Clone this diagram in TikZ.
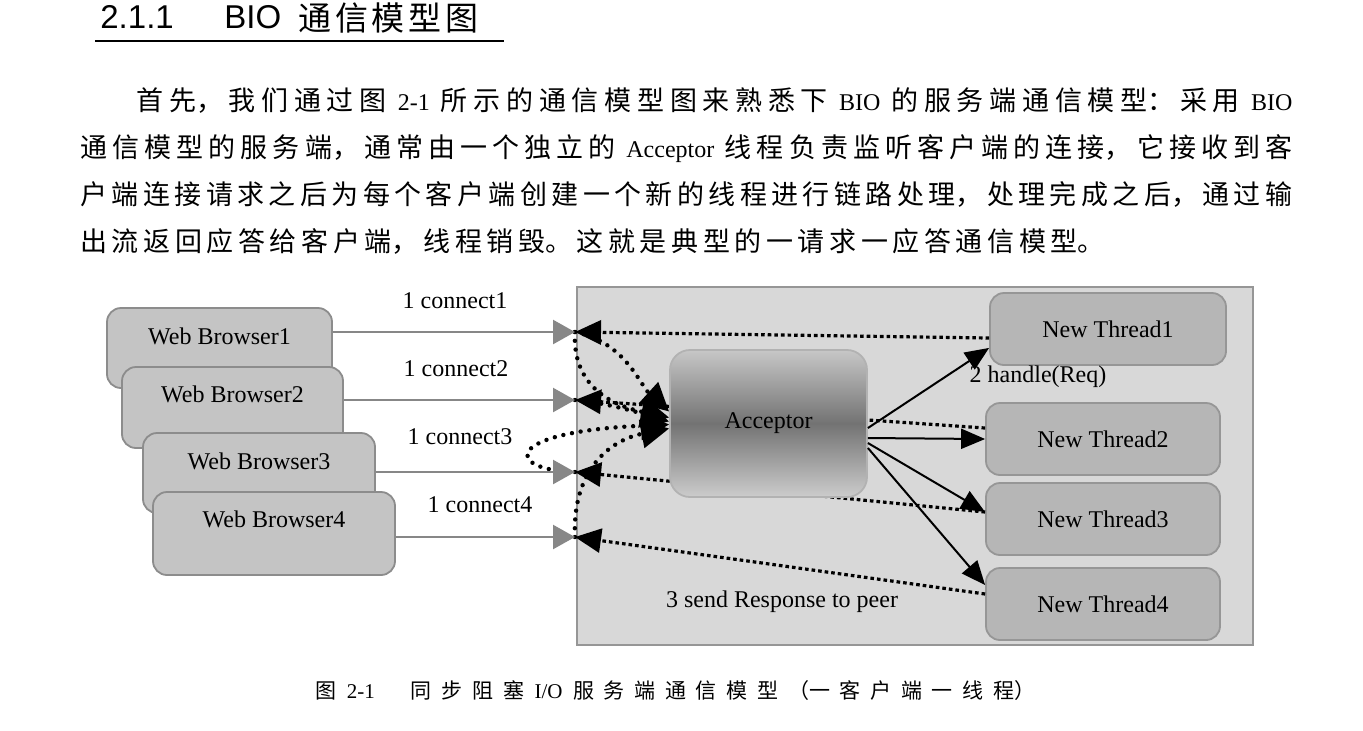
\documentclass[tikz,border=0pt]{standalone}
\usepackage{fontspec}
\setmainfont{Liberation Serif}
\newfontfamily\cjk{Noto Sans CJK SC}
\newfontfamily\headfont{Liberation Sans}
\usetikzlibrary{arrows.meta,positioning}

\XeTeXlinebreaklocale "zh"
\XeTeXlinebreakskip=2.3pt plus 2pt minus 1pt
\tolerance=9999
\hbadness=10000

\definecolor{srvfill}{RGB}{216,216,216}
\definecolor{srvline}{RGB}{150,150,150}
\definecolor{wbfill}{RGB}{196,196,196}
\definecolor{wbline}{RGB}{140,140,140}
\definecolor{thfill}{RGB}{182,182,182}
\definecolor{thline}{RGB}{150,150,150}
\definecolor{arrgray}{RGB}{135,135,135}

\def\latsize{12}
\def\lspamount{5pt}
\newcommand\lat[1]{{\rmfamily\fontsize{\latsize}{14}\selectfont\mbox{#1}}}
\newcommand\lsp{\hskip\lspamount plus 2pt\relax}
% one justified line of running text
\newcommand\fullline[2]{\parbox[b]{#1}{\parfillskip=0pt\noindent#2}}

\begin{document}
\begin{tikzpicture}[x=0.5pt,y=-0.5pt,
	box/.style={rounded corners=7pt, line width=0.9pt, inner sep=0pt},
	browser/.style={box, draw=wbline, fill=wbfill},
	thread/.style={box, draw=thline, fill=thfill, minimum width=117pt, minimum height=36pt, font=\fontsize{12}{14}\selectfont},
	lbl/.style={font=\fontsize{12}{14}\selectfont, inner sep=0pt},
	body/.style={anchor=base west, inner sep=0pt, font=\cjk\fontsize{13.5}{16}\selectfont},
	req/.style={draw=arrgray, line width=1.2pt, -{Triangle[length=11pt,width=12pt]}},
	resp/.style={draw=black, line width=1.6pt, dash pattern=on 1.8pt off 1.5pt, -{Triangle[length=13pt,width=12pt]}},
	accept/.style={draw=black, line width=2.2pt, line cap=round, dash pattern=on 0pt off 4.4pt, -{Triangle[length=14pt,width=14pt]}},
	handle/.style={draw=black, line width=1pt, -{Triangle[length=12pt,width=10pt]}}]

	% Page
	\fill[white] (0,0) rectangle (1363,730);
	\useasboundingbox (0,0) rectangle (1363,730);

	% Heading
	\node[anchor=base west, inner sep=0pt, font=\headfont\fontsize{16.5}{17}\selectfont] (secnum) at (100,28) {2.1.1};
	\node[anchor=base west, inner sep=0pt, font=\headfont\fontsize{16.5}{17}\selectfont] (secbio) at (224,28) {BIO};
	\node[anchor=base west, inner sep=0pt, font=\cjk\fontsize{16.5}{17}\selectfont] (sectitle) at (298,30) {\makebox[90pt][s]{通\hfil 信\hfil 模\hfil 型\hfil 图}};
	\draw[line width=0.7pt] (95,41) -- (504,41);

	% Paragraph
	\node[body] (p1) at (136,110) {\fullline{578pt}{首先，我们通过图\lsp\lat{2-1}\lsp 所示的通信模型图来熟悉下\lsp\lat{BIO}\lsp 的服务端通信模型：采用\lsp\lat{BIO}}};
	\node[body] (p2) at (80,157) {\fullline{606pt}{通信模型的服务端，通常由一个独立的\lsp\lat{Acceptor}\lsp 线程负责监听客户端的连接，它接收到客}};
	\node[body] (p3) at (80,204) {\fullline{606pt}{户端连接请求之后为每个客户端创建一个新的线程进行链路处理，处理完成之后，通过输}};
	\node[body] (p4) at (80,251) {\parbox[b]{606pt}{\noindent 出流返回应答给客户端，线程销毁。这就是典型的一请求一应答通信模型。}};

	% Clients
	\node[browser, minimum width=112.5pt, minimum height=40pt] (wb1) at (219.5,348) {};
	\node[lbl] (wb1t) at ([yshift=-14.5pt]wb1.north) {Web Browser1};
	\node[browser, minimum width=110.5pt, minimum height=40.5pt] (wb2) at (232.5,407.5) {};
	\node[lbl] (wb2t) at ([yshift=-14pt]wb2.north) {Web Browser2};
	\node[browser, minimum width=116pt, minimum height=40pt] (wb3) at (259,473) {};
	\node[lbl] (wb3t) at ([yshift=-14.5pt]wb3.north) {Web Browser3};
	\node[browser, minimum width=121pt, minimum height=41.5pt] (wb4) at (274,533.5) {};
	\node[lbl] (wb4t) at ([yshift=-14pt]wb4.north) {Web Browser4};

	% Server side
	\node[draw=srvline, fill=srvfill, line width=0.9pt, minimum width=338pt, minimum height=179pt, inner sep=0pt] (srv) at (915,466) {};
	\coordinate (in1) at (575,332);
	\coordinate (in2) at (575,400);
	\coordinate (in3) at (575,472);
	\coordinate (in4) at (575,537);

	\node[thread, minimum width=118pt] (t1) at (1108,329) {New Thread1};
	\node[thread] (t2) at (1103,439) {New Thread2};
	\node[thread] (t3) at (1103,519) {New Thread3};
	\node[thread] (t4) at (1103,604) {New Thread4};

	% Responses back to the clients
	\draw[resp] ([yshift=-4.5pt]t1.west) -- (in1);
	\draw[resp] ([yshift=5.5pt]t2.west) -- (in2);
	\draw[resp] ([yshift=3.5pt]t3.west) -- (in3);
	\draw[resp] ([yshift=5pt]t4.west) -- (in4);

	\node[box, rounded corners=10pt, draw=black!30, top color=black!22, bottom color=black!20, middle color=black!55, minimum width=98.5pt, minimum height=73.5pt, font=\fontsize{12}{14}\selectfont] (acc) at (768.5,423.5) {Acceptor};

	% Acceptor hands over
	\draw[handle] ([yshift=-2.25pt]acc.east) -- ([yshift=9pt]t1.south west);
	\draw[handle] ([yshift=-7.25pt]acc.east) -- (t2.west);
	\draw[handle] ([yshift=-9.75pt]acc.east) -- ([yshift=3.5pt]t3.west);
	\draw[handle] ([yshift=-12.25pt]acc.east) -- ([yshift=9.5pt]t4.west);

	% Accepted connections
	\draw[accept] (in1) .. controls (625,342) and (640,385) .. ([yshift=6pt]acc.west);
	\draw[accept] (in1) .. controls (572,385) and (610,405) .. ([yshift=3pt]acc.west);
	\draw[accept] (in2) .. controls (600,402) and (630,410) .. ([yshift=1pt]acc.west);
	\draw[accept] (in3) .. controls (505,470) and (500,432) .. ([yshift=-0.5pt]acc.west);
	\draw[accept] (in4) .. controls (572,470) and (610,440) .. ([yshift=-2.5pt]acc.west);

	% Requests
	\draw[req] (wb1.east |- in1) -- (in1);
	\draw[req] (wb2.east |- in2) -- (in2);
	\draw[req] (wb3.east |- in3) -- (in3);
	\draw[req] (wb4.east |- in4) -- (in4);

	% Labels
	\node[lbl] (c1) at (455,301) {1 connect1};
	\node[lbl] (c2) at (456,369) {1 connect2};
	\node[lbl] (c3) at (460,437) {1 connect3};
	\node[lbl] (c4) at (480,505) {1 connect4};
	\node[lbl] (hreq) at (1038,377) {2 handle(Req)};
	\node[lbl] (send) at (782,602) {3 send Response to peer};

	% Caption
	\node[anchor=base west, inner sep=0pt, font=\cjk\fontsize{10.5}{12}\selectfont] (cap) at (315,698) {\def\latsize{10.5}\def\lspamount{4pt}\parbox[b]{360pt}{\XeTeXlinebreakskip=3pt plus 3pt minus 1pt\parfillskip=0pt\noindent 图\lsp\lat{2-1}\hspace{18pt}同步阻塞\lsp\lat{I/O}\lsp 服务端通信模型（一客户端一线程）}};
\end{tikzpicture}
\end{document}
